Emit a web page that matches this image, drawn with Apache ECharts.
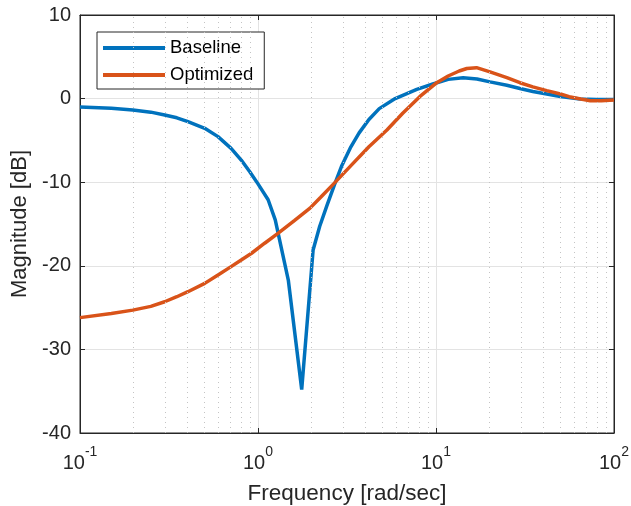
<!DOCTYPE html>
<html><head><meta charset="utf-8">
<script src="https://cdn.jsdelivr.net/npm/echarts@6/dist/echarts.min.js"></script>
<style>html,body{margin:0;padding:0;background:#fff}#c{width:631px;height:506px}</style>
</head><body><div id="c"></div>
<script>
const freqBase = [0.1, 0.15, 0.198, 0.25, 0.299, 0.35, 0.404, 0.502, 0.596, 0.706, 0.805, 0.899, 1.0, 1.14, 1.25, 1.48, 1.76, 2.04, 2.22, 2.43, 2.7, 2.96, 3.3, 3.7, 4.2, 4.8, 5.9, 7.8, 9.6, 11.7, 14.2, 17, 20.1, 25, 29.6, 35, 41.9, 50, 64.4, 80, 100];
const magBase  = [-1.0, -1.15, -1.36, -1.62, -1.96, -2.3, -2.76, -3.55, -4.55, -5.95, -7.35, -8.74, -10.2, -12.1, -14.5, -21.7, -34.8, -18.1, -15.3, -12.9, -10.2, -8.0, -5.9, -4.1, -2.5, -1.2, 0.0, 1.1, 1.75, 2.3, 2.5, 2.35, 2.0, 1.6, 1.2, 0.85, 0.55, 0.25, -0.05, -0.1, -0.1];
const freqOpt = [0.1, 0.15, 0.198, 0.25, 0.299, 0.35, 0.404, 0.502, 0.596, 0.706, 0.805, 0.92, 1.09, 1.30, 1.6, 1.96, 2.25, 2.66, 3.42, 4.2, 5.3, 6.5, 8.1, 10.1, 11.7, 13.5, 14.9, 16.9, 20.1, 25, 29.6, 35, 41.9, 50, 56, 65, 73.5, 85, 100];
const magOpt  = [-26.2, -25.7, -25.3, -24.85, -24.3, -23.7, -23.1, -22.1, -21.1, -20.1, -19.3, -18.5, -17.3, -16.1, -14.6, -13.1, -11.8, -10.2, -7.75, -5.75, -3.75, -1.76, 0.23, 1.9, 2.7, 3.3, 3.6, 3.7, 3.2, 2.5, 1.9, 1.4, 0.95, 0.55, 0.23, -0.05, -0.25, -0.25, -0.17];
const minorX = [0.2,0.3,0.4,0.5,0.6,0.7,0.8,0.9,2,3,4,5,6,7,8,9,20,30,40,50,60,70,80,90];
const seriesNames = ['Baseline', 'Optimized'];
const xLabelExp = {0.1: '-1', 1: '0', 10: '1', 100: '2'};

const txt = '#262626';
const font = 'Liberation Sans, Arial, sans-serif';
const chart = echarts.init(document.getElementById('c'), null, {renderer: 'canvas'});
const pairs = (xs, ys) => xs.map((x, i) => [x, ys[i]]);
const gridLine = {show: true, lineStyle: {color: '#e3e3e3', width: 1}};

chart.setOption({
  animation: false,
  textStyle: {fontFamily: font},
  grid: {left: 80, right: 17, top: 15, bottom: 73, outerBoundsMode: 'none', containLabel: false,
         show: true, borderColor: txt, borderWidth: 1, backgroundColor: 'transparent'},
  legend: {
    data: seriesNames.map(n => ({name: n, icon: 'rect'})), orient: 'vertical', left: 97, top: 32,
    padding: [6, 11, 4, 6], itemGap: 7, itemWidth: 62, itemHeight: 4,
    backgroundColor: '#fff', borderColor: txt, borderWidth: 1, borderRadius: 0,
    textStyle: {fontSize: 18.5, color: '#000', fontFamily: font, padding: [0, 0, 0, 0], lineHeight: 20}
  },
  xAxis: [{
    type: 'log', logBase: 10, min: 0.1, max: 100,
    name: 'Frequency [rad/sec]', nameLocation: 'middle', nameGap: 49,
    nameTextStyle: {fontSize: 22.5, color: txt, fontFamily: font},
    axisLine: {show: true, onZero: false, lineStyle: {color: txt}},
    axisTick: {show: true, inside: true, length: 5, lineStyle: {color: txt}},
    splitLine: gridLine,
    axisLabel: {
      color: txt, margin: 12,
      formatter: v => '{b|10}{s|' + xLabelExp[v] + '}',
      rich: {b: {fontSize: 20, color: txt, fontFamily: font, verticalAlign: 'bottom', lineHeight: 28},
             s: {fontSize: 14, color: txt, fontFamily: font, verticalAlign: 'top', lineHeight: 28}}
    }
  }, {
    type: 'log', logBase: 10, min: 0.1, max: 100, position: 'top',
    axisLine: {show: true, onZero: false, lineStyle: {color: txt}},
    axisTick: {show: true, inside: true, length: 5, lineStyle: {color: txt}},
    axisLabel: {show: false}, splitLine: {show: false}
  }],
  yAxis: [{
    type: 'value', min: -40, max: 10, interval: 10,
    name: 'Magnitude [dB]', nameLocation: 'middle', nameGap: 44,
    nameTextStyle: {fontSize: 22, color: txt, fontFamily: font},
    axisLine: {show: true, onZero: false, lineStyle: {color: txt}},
    axisTick: {show: true, inside: true, length: 5, lineStyle: {color: txt}},
    splitLine: gridLine,
    axisLabel: {color: txt, fontSize: 20, margin: 9, fontFamily: font}
  }, {
    type: 'value', min: -40, max: 10, interval: 10, position: 'right',
    axisLine: {show: true, onZero: false, lineStyle: {color: txt}},
    axisTick: {show: true, inside: true, length: 5, lineStyle: {color: txt}},
    axisLabel: {show: false}, splitLine: {show: false}
  }],
  series: [{
    type: 'line', name: '_minor', data: [], silent: true,
    markLine: {silent: true, symbol: ['none', 'none'], label: {show: false},
      lineStyle: {color: '#c4c4c4', type: [1, 4], width: 1},
      data: minorX.map(v => ({xAxis: v}))}
  }, {
    type: 'line', name: seriesNames[0], data: pairs(freqBase, magBase),
    showSymbol: false, symbol: 'none', lineStyle: {color: '#0072BD', width: 3.5}, itemStyle: {color: '#0072BD'}, z: 3
  }, {
    type: 'line', name: seriesNames[1], data: pairs(freqOpt, magOpt),
    showSymbol: false, symbol: 'none', lineStyle: {color: '#D95319', width: 3.5}, itemStyle: {color: '#D95319'}, z: 4
  }]
});
</script></body></html>
